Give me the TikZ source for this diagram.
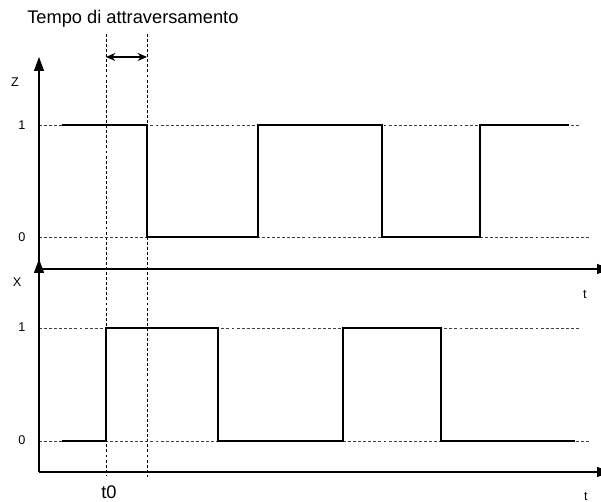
\documentclass[tikz,border=0pt]{standalone}
\usepackage{fontspec}
\setmainfont{Liberation Sans}
\usetikzlibrary{arrows.meta}
\begin{document}
\begin{tikzpicture}[x=0.75pt,y=-0.75pt,
  axis/.style={line width=0.8pt,-{Triangle[length=10.5pt,width=7.5pt]}},
  guide/.style={line width=0.7pt,dash pattern=on 2.2pt off 1.6pt},
  level/.style={line width=0.6pt,dash pattern=on 2.2pt off 1.6pt,black!75},
  signal/.style={line width=1.5pt,line join=miter},
  small/.style={font=\fontsize{9.5}{11}\selectfont,inner sep=0pt},
  big/.style={font=\fontsize{13.7}{15}\selectfont,inner sep=0pt}]
\useasboundingbox (0,0) rectangle (601,502);
\clip (0,0) rectangle (601,502);
% title
\node[big,anchor=west] (title) at (27,19) {Tempo di attraversamento};
% guide lines
\coordinate (g1t) at (106,34);
\coordinate (g1b) at (106,476);
\coordinate (g2t) at (147,34);
\coordinate (g2b) at (147,477);
\draw[guide] (g1t) -- (g1b);
\draw[guide] (g2t) -- (g2b);
\coordinate (d1) at (106,57);
\coordinate (d2) at (147,57);
\draw[line width=0.8pt,{Stealth[length=7pt,width=6pt]}-{Stealth[length=7pt,width=6pt]}] (d1) -- (d2);
% levels Z
\draw[level] (39,125) -- (581,125);
\draw[level] (39,237) -- (589,237);
% levels X
\draw[level] (39,328) -- (581,328);
\draw[level] (39,441) -- (589,441);
% Z axes
\coordinate (zo) at (39,269);
\coordinate (zy) at (39,57);
\coordinate (zx) at (611,269);
\draw[axis] (zo) -- (zy);
\draw[axis] (zo) -- (zx);
% X axes
\coordinate (xo) at (39,472);
\coordinate (xy) at (39,259);
\coordinate (xx) at (611,472);
\draw[axis] (xo) -- (xy);
\draw[axis] (xo) -- (xx);
% Z signal
\draw[signal] (62,125) -- (147,125) -- (147,237) -- (258,237) -- (258,125) -- (382,125) -- (382,237) -- (480,237) -- (480,125) -- (569,125);
% X signal
\draw[signal] (62,441) -- (106,441) -- (106,328) -- (218,328) -- (218,441) -- (343,441) -- (343,328) -- (441,328) -- (441,441) -- (575,441);
% labels
\node[small] (lz) at (15,82) {Z};
\node[small] (lz1) at (22,125) {1};
\node[small] (lz0) at (22,237) {0};
\node[small] (lt1) at (585,294) {t};
\node[small] (lx) at (17,282) {X};
\node[small] (lx1) at (22,327) {1};
\node[small] (lx0) at (22,440) {0};
\node[small] (lt2) at (586,496) {t};
\node[big] (t0) at (109,492) {t0};
\end{tikzpicture}
\end{document}
